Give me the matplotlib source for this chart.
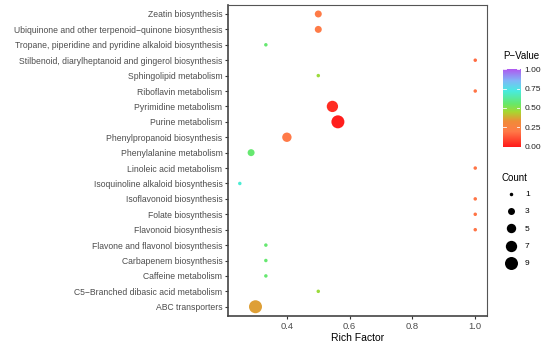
import numpy as np
import matplotlib
matplotlib.use("Agg")
import matplotlib.pyplot as plt
from matplotlib.colors import LinearSegmentedColormap, Normalize

plt.rcParams['font.family'] = ['Liberation Sans', 'DejaVu Sans']

# pathways, bottom to top as drawn
pathways = [
    "ABC transporters",
    "C5\u2212Branched dibasic acid metabolism",
    "Caffeine metabolism",
    "Carbapenem biosynthesis",
    "Flavone and flavonol biosynthesis",
    "Flavonoid biosynthesis",
    "Folate biosynthesis",
    "Isoflavonoid biosynthesis",
    "Isoquinoline alkaloid biosynthesis",
    "Linoleic acid metabolism",
    "Phenylalanine metabolism",
    "Phenylpropanoid biosynthesis",
    "Purine metabolism",
    "Pyrimidine metabolism",
    "Riboflavin metabolism",
    "Sphingolipid metabolism",
    "Stilbenoid, diarylheptanoid and gingerol biosynthesis",
    "Tropane, piperidine and pyridine alkaloid biosynthesis",
    "Ubiquinone and other terpenoid\u2212quinone biosynthesis",
    "Zeatin biosynthesis",
]
rich_factor = [0.30, 0.50, 0.333, 0.333, 0.333, 1.0, 1.0, 1.0, 0.25, 1.0,
               0.286, 0.40, 0.5625, 0.545, 1.0, 0.50, 1.0, 0.333, 0.50, 0.50]
count = [9, 1, 1, 1, 1, 1, 1, 1, 1, 1,
         3, 5, 9, 7, 1, 1, 1, 1, 3, 3]
pvalue = [0.36, 0.47, 0.56, 0.56, 0.56, 0.19, 0.19, 0.19, 0.70, 0.19,
          0.56, 0.20, 0.01, 0.04, 0.19, 0.47, 0.17, 0.56, 0.21, 0.21]

legend_counts = [1, 3, 5, 7, 9]
cbar_ticks = [0.00, 0.25, 0.50, 0.75, 1.00]

cmap = LinearSegmentedColormap.from_list("pv", [
    (0.00, "#FF1A1A"), (0.20, "#FF7A48"), (0.33, "#F08C38"),
    (0.45, "#A8D830"), (0.55, "#68E868"), (0.72, "#48ECE0"),
    (0.85, "#80B8F8"), (1.00, "#B058F0")])
norm = Normalize(0, 1)


def pt_size(c):
    d_px = -1.25 + 4.75 * np.sqrt(c)
    return (d_px * 0.72) ** 2


fig = plt.figure(figsize=(5.54, 3.48), dpi=100)
ax = fig.add_axes([0.4116, 0.092, 0.4675, 0.8944])

y = np.arange(len(pathways))
ax.scatter(rich_factor, y, s=[pt_size(c) for c in count],
           c=pvalue, cmap=cmap, norm=norm, linewidths=0, zorder=3)

ax.set_yticks(y)
ax.set_yticklabels(pathways, fontsize=6.2, color="#4D4D4D")
ax.set_ylim(-0.6, len(pathways) - 0.4)
ax.set_xlim(0.2125, 1.0375)
ax.set_xticks([0.4, 0.6, 0.8, 1.0])
ax.set_xticklabels(["0.4", "0.6", "0.8", "1.0"], fontsize=6.8, color="#4D4D4D")
ax.set_xlabel("Rich Factor", fontsize=7.5, labelpad=2)
ax.tick_params(length=2.5, width=0.8, color="#333333", pad=1.5)
for side in ["top", "right"]:
    ax.spines[side].set_color("#555555")
    ax.spines[side].set_linewidth(0.8)
for side in ["left", "bottom"]:
    ax.spines[side].set_color("#444444")
    ax.spines[side].set_linewidth(1.2)

# colour bar
cax = fig.add_axes([0.908, 0.572, 0.031, 0.236])
grad = np.linspace(0, 1, 256).reshape(-1, 1)
cax.imshow(grad, aspect="auto", origin="lower", cmap=cmap, extent=[0, 1, 0, 1])
for t in cbar_ticks:
    cax.plot([0, 0.2], [t, t], color="white", lw=0.6)
    cax.plot([0.8, 1], [t, t], color="white", lw=0.6)
cax.set_xlim(0, 1)
cax.set_ylim(-0.03, 1.03)
cax.yaxis.tick_right()
cax.set_yticks(cbar_ticks)
cax.set_yticklabels(["%.2f" % t for t in cbar_ticks], fontsize=6, color="#222222")
cax.tick_params(length=0, pad=3)
cax.set_xticks([])
for s in cax.spines.values():
    s.set_visible(False)
fig.text(0.908, 0.825, "P\u2212Value", fontsize=7, va="bottom", ha="left")

# count legend
handles = [ax.scatter([], [], s=pt_size(c), color="black", linewidths=0)
           for c in legend_counts]
leg = fig.legend(handles, [str(c) for c in legend_counts], title="Count",
                 loc="upper left", bbox_to_anchor=(0.898, 0.515),
                 frameon=False, fontsize=6, title_fontsize=7,
                 labelspacing=1.15, handletextpad=0.6, alignment="left",
                 borderpad=0, handlelength=2.2)
leg._legend_box.sep = 5

fig.savefig("out.png", dpi=100, facecolor="white")
